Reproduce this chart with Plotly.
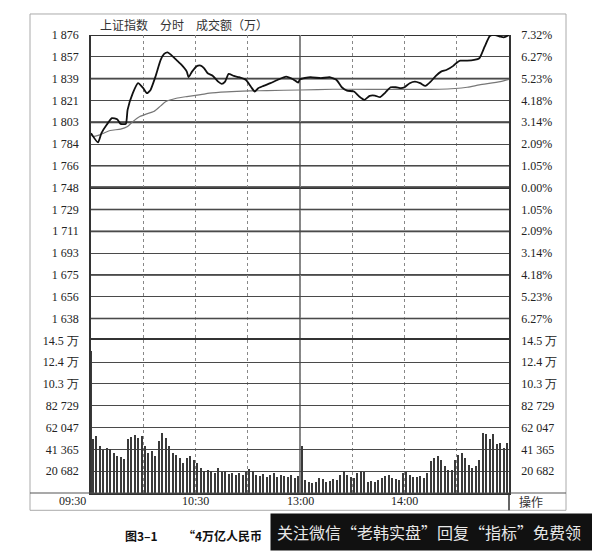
import plotly.graph_objects as go

# ---------------- data ----------------
prev_close = 1748.0
price_minutes = [0, 4, 6, 9, 12, 15, 17, 20, 21, 24, 27, 30, 32, 34, 37, 40, 42, 44, 46, 49,
                 52, 55, 56, 58, 61, 63, 65, 67, 70, 73, 75, 77, 79, 82, 85, 89, 92, 94, 96, 99,
                 103, 107, 112, 116, 119,
                 120, 126, 132, 137, 141, 144, 147, 151, 154, 157, 160, 163, 166, 169, 172, 175,
                 178, 180, 183, 186, 189, 192, 195, 198, 201, 204, 208, 210, 212, 216, 220, 223,
                 226, 229, 232, 235, 237, 240]
price_values = [1793.7, 1785.9, 1793.7, 1800.7, 1806.3, 1805.4, 1801.5, 1801.5, 1813.2, 1827.2,
                1835.6, 1831.4, 1827.2, 1829.4, 1841.1, 1855.1, 1860.1, 1861.5, 1859.3, 1855.1,
                1850.9, 1845.3, 1840.6, 1845.3, 1850.1, 1850.3, 1848.1, 1843.9, 1841.7, 1836.9,
                1835.0, 1836.9, 1843.4, 1841.7, 1840.6, 1838.3, 1832.2, 1828.6, 1831.4, 1833.3,
                1835.6, 1838.3, 1841.1, 1838.9, 1836.1,
                1838.9, 1840.6, 1839.8, 1840.6, 1838.3, 1832.2, 1829.4, 1828.6, 1824.4, 1821.6,
                1825.0, 1825.2, 1823.9, 1827.7, 1832.2, 1832.2, 1831.4, 1832.2, 1835.6, 1836.9,
                1835.6, 1833.3, 1836.9, 1841.7, 1845.3, 1846.7, 1850.1, 1852.8, 1854.5, 1854.5,
                1855.1, 1856.5, 1866.2, 1875.2, 1876.0, 1874.6, 1874.0, 1876.0]

avg_minutes = [0, 1, 5, 11, 17, 21, 24, 28, 32, 36, 40, 43, 49, 55, 63, 68, 78, 91, 101, 120,
               139, 200, 216, 223, 235, 240]
avg_values = [1792.5, 1790.9, 1792.3, 1795.9, 1797.1, 1799.3, 1803.4, 1807.6, 1809.9, 1811.8,
              1816.6, 1820.2, 1823.0, 1824.4, 1826.0, 1827.2, 1828.3, 1829.1, 1829.4, 1829.9,
              1830.5, 1830.5, 1832.2, 1834.2, 1836.9, 1838.9]

# turnover (万), opening auction first, then one bar per two minutes
vol_minutes = [0] + list(range(1, 240, 2))
vol_values = [134000,
              50500, 53700, 44100, 40900, 42500, 41500, 37700, 35200, 33900, 32000,
              50500, 53100, 54300, 52100, 53700, 44100, 37700, 39300, 35200, 48900,
              56900, 52100, 44100, 37700, 36100, 32900, 28100, 32900, 35200, 31300,
              28100, 23300, 20100, 21700, 20100, 18500, 23300, 19200, 20100, 17900,
              18500, 16900, 18500, 16900, 19200, 22400, 20100, 16900, 16000, 17900,
              15300, 16900, 18500, 14700, 16900, 16000, 14700, 16900, 13700, 16000,
              44100, 12100, 10500, 9600, 10500, 13700, 12800, 10500, 11200, 12800,
              12100, 16900, 20100, 16900, 15300, 13700, 18500, 20100, 19200, 10500,
              11500, 10500, 12100, 13700, 16000, 16900, 13700, 12800, 12100, 18500,
              19200, 16900, 15300, 14700, 16000, 13700, 18500, 29700, 32900, 35200,
              31300, 24900, 21700, 21100, 31300, 36100, 37700, 32900, 26500, 23300,
              24900, 31300, 56900, 55300, 50500, 55300, 45700, 47300, 42500, 47300]

price_tick_labels = ["1 638", "1 656", "1 675", "1 693", "1 711", "1 729", "1 748",
                     "1 766", "1 784", "1 803", "1 821", "1 839", "1 857", "1 876"]
pct_tick_labels = ["6.27%", "5.23%", "4.18%", "3.14%", "2.09%", "1.05%", "0.00%",
                   "1.05%", "2.09%", "3.14%", "4.18%", "5.23%", "6.27%", "7.32%"]
vol_tick_labels = ["20 682", "41 365", "62 047", "82 729", "10.3 万", "12.4 万", "14.5 万"]
vol_step = 20682.3
time_grid_minutes = [30, 60, 90, 120, 150, 180, 210]
time_label_minutes = [60, 120, 180]
time_labels = ["10:30", "13:00", "14:00"]

# ---------------- derived axis geometry ----------------
step = (1876 - prev_close) / 7.0
price_ticks = [prev_close + k * step for k in range(-6, 8)]
price_range = [prev_close - 7 * step, prev_close + 7 * step]
vol_ticks = [vol_step * k for k in range(1, 8)]
vol_range = [0, vol_step * 7]

NUM_FONT = dict(family="Liberation Serif, Times New Roman, serif", size=12, color="#222")
CJK = "Noto Sans CJK SC, sans-serif"

fig = go.Figure()

fig.add_trace(go.Bar(
    x=vol_minutes, y=vol_values, xaxis="x", yaxis="y2",
    width=[1.3] + [1.15] * (len(vol_minutes) - 1),
    marker=dict(color="#3a3a3a", line=dict(width=0)),
    hoverinfo="skip", showlegend=False))

fig.add_trace(go.Scatter(
    x=avg_minutes, y=avg_values, mode="lines", xaxis="x", yaxis="y",
    line=dict(color="#777", width=1.2, shape="spline", smoothing=0.6),
    hoverinfo="skip", showlegend=False))

fig.add_trace(go.Scatter(
    x=price_minutes, y=price_values, mode="lines", xaxis="x", yaxis="y",
    line=dict(color="#111", width=1.8, shape="spline", smoothing=0.5),
    hoverinfo="skip", showlegend=False))

# invisible traces to activate right-side axes
fig.add_trace(go.Scatter(x=[0], y=[prev_close], yaxis="y3", mode="markers",
                         marker=dict(opacity=0), hoverinfo="skip", showlegend=False))
fig.add_trace(go.Scatter(x=[0], y=[0], yaxis="y4", mode="markers",
                         marker=dict(opacity=0), hoverinfo="skip", showlegend=False))

grid_col = "#4a4a4a"
BORDER = dict(showline=True, linecolor="#333", linewidth=1.5)
# page has an 8px body margin: figure is 592x543 so that it fills the 600x551 window
fig.update_layout(
    width=592, height=543,
    margin=dict(l=83, r=91, t=27, b=58, pad=0),
    paper_bgcolor="white", plot_bgcolor="white",
    bargap=0,
    xaxis=dict(range=[0, 240], tickvals=time_grid_minutes, showticklabels=False,
               anchor="y2",
               showgrid=True, gridcolor="#888", griddash="dot", gridwidth=1,
               showline=True, mirror=True, linecolor="#333", linewidth=1.8,
               ticks="", zeroline=False, fixedrange=True),
    yaxis=dict(domain=[1/3, 1], range=price_range, tickvals=price_ticks,
               ticktext=price_tick_labels, tickfont=NUM_FONT, ticks="",
               ticklabelstandoff=8,
               showgrid=True, gridcolor=grid_col, gridwidth=1, zeroline=False, **BORDER),
    yaxis2=dict(domain=[0, 1/3], range=vol_range, tickvals=vol_ticks,
                ticktext=vol_tick_labels, tickfont=NUM_FONT, ticks="",
                ticklabelstandoff=8,
                showgrid=True, gridcolor=grid_col, gridwidth=1.4, zeroline=False, **BORDER),
    yaxis3=dict(overlaying="y", side="right", range=price_range, tickvals=price_ticks,
                ticktext=pct_tick_labels, tickfont=NUM_FONT, ticks="",
                ticklabelstandoff=8, showgrid=False, zeroline=False, **BORDER),
    yaxis4=dict(overlaying="y2", side="right", range=vol_range, tickvals=vol_ticks,
                ticktext=vol_tick_labels, tickfont=NUM_FONT, ticks="",
                ticklabelstandoff=8, showgrid=False, zeroline=False, **BORDER),
)

# heavier grid lines
thick = {1876: 1.8, 1839: 1.8, 1803: 1.8, 1748: 2.6, 1711: 1.8, 1675: 1.8, 1729: 1.5,
         1766: 1.4, 1638: 1.5}
shapes = []
for tv, lab in zip(price_ticks, price_tick_labels):
    v = int(lab.replace(" ", ""))
    if v in thick:
        shapes.append(dict(type="line", xref="paper", yref="y", x0=0, x1=1, y0=tv, y1=tv,
                           line=dict(color="#333", width=thick[v]), layer="below"))
# 13:00 solid line
shapes.append(dict(type="line", xref="x", yref="paper", x0=120, x1=120, y0=0, y1=1,
                   line=dict(color="#444", width=1.3), layer="below"))


def px(xp):
    return (xp - 91) / 418


def py(yp):
    return (492.7 - yp) / 457.7


# outer frame
fx0, fx1, fy0, fy1 = px(30), px(566), py(510), py(14)
shapes.append(dict(type="rect", xref="paper", yref="paper", x0=fx0, x1=fx1, y0=fy0, y1=fy1,
                   line=dict(color="#aaa", width=1)))
shapes.append(dict(type="line", xref="paper", yref="paper", x0=fx0, x1=fx1, y0=0, y1=0,
                   line=dict(color="#555", width=1.2)))
shapes.append(dict(type="line", xref="paper", yref="paper", x0=1, x1=1, y0=fy0, y1=0,
                   line=dict(color="#333", width=1.5)))
fig.update_layout(shapes=shapes)

ann = [
    dict(text="上证指数　分时　成交额（万）", x=px(98), y=py(25), xanchor="left", yanchor="middle",
         font=dict(family=CJK, size=12, color="#333")),
    dict(text="09:30", x=px(72), y=py(501), xanchor="center", yanchor="middle", font=NUM_FONT),
    dict(text="操作", x=px(531), y=py(501.5), xanchor="center", yanchor="middle",
         font=dict(family=CJK, size=12, color="#333")),
    dict(text="<b>图3–1</b>", x=px(123), y=py(535), xanchor="left", yanchor="middle",
         font=dict(family=CJK, size=12, color="#111")),
    dict(text="<b>“4万亿人民币</b>", x=px(181), y=py(535), xanchor="left", yanchor="middle",
         font=dict(family=CJK, size=12, color="#111")),
    dict(text="关注微信“老韩实盘”回复“指标”免费领", x=px(270), y=py(551), xanchor="left",
         yanchor="bottom", font=dict(family=CJK, size=16, color="#e8e8e8"),
         bgcolor="#111", borderpad=6, width=318, align="left"),
]
for a in ann:
    a.update(xref="paper", yref="paper", showarrow=False)
for m, lab in zip(time_label_minutes, time_labels):
    ann.append(dict(text=lab, x=m, xref="x", y=py(501), yref="paper", xanchor="center",
                    yanchor="middle", showarrow=False, font=NUM_FONT))
fig.update_layout(annotations=ann)

fig.write_html("out.html")
